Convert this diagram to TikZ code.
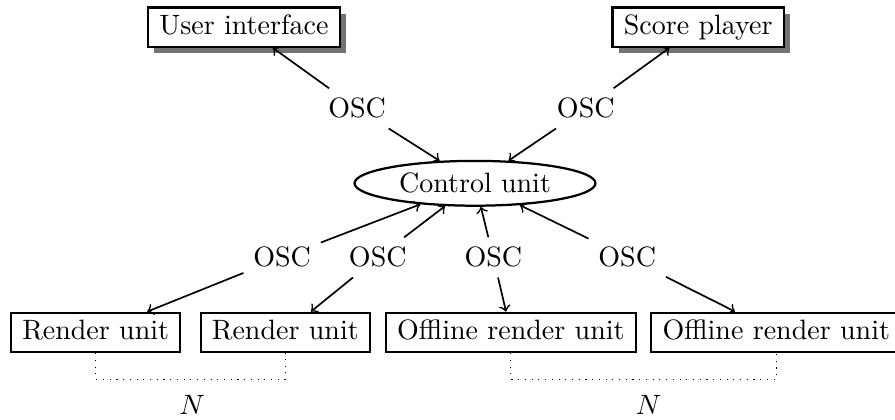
\documentclass[tikz,border=0pt]{standalone}
\usepackage{amsmath}
\usepackage{tikz}
\usetikzlibrary{shapes,shadows,calc}

\begin{document}
\begin{tikzpicture}[>=to]
  \useasboundingbox (0,0) rectangle (11.23,5.26);
  \tikzset{
    unitbox/.style={draw, thick, rectangle, fill=white, inner xsep=4pt, inner ysep=2.5pt, text height=7pt, text depth=2pt},
    shadowbox/.style={unitbox, drop shadow={shadow xshift=2.2pt, shadow yshift=-2.2pt, fill=black!55, opacity=1}},
    link/.style={semithick,->}
  }

  \node[shadowbox] at (3.06,4.92) (ui) {User interface};
  \node[shadowbox] at (8.76,4.92) (score) {Score player};
  \node at (4.48,3.90) (oscui) {OSC};
  \node at (7.35,3.90) (oscscore) {OSC};
  \node[draw, thick, ellipse, inner sep=0pt, minimum width=86pt, minimum height=16pt] at (5.96,2.96) (ctrl) {Control unit};

  \node at (3.54,2.03) (oscr1) {OSC};
  \node at (4.74,2.03) (oscr2) {OSC};
  \node at (6.19,2.03) (osco1) {OSC};
  \node at (7.87,2.03) (osco2) {OSC};
  \node[unitbox] at (1.20,1.09) (render1) {Render unit};
  \node[unitbox] at (3.58,1.09) (render2) {Render unit};
  \node[unitbox] at (6.41,1.09) (offline1) {Offline render unit};
  \node[unitbox] at (9.74,1.09) (offline2) {Offline render unit};

  \draw[link] (oscui) -- (ui);
  \draw[link] (oscui) -- (ctrl);
  \draw[link] (oscscore) -- (score);
  \draw[link] (oscscore) -- (ctrl);

  \draw[link] (oscr1) -- (ctrl);
  \draw[link] (oscr1) -- (render1);
  \draw[link] (oscr2) -- (ctrl);
  \draw[link] (oscr2) -- (render2);
  \draw[link] (osco1) -- (ctrl);
  \draw[link] (osco1) -- (offline1);
  \draw[link] (osco2) -- (ctrl);
  \draw[link] (osco2) -- (offline2);

  % the N copies
  \draw[dotted] (render1.south) -- ++(0,-0.33) -| (render2.south);
  \draw[dotted] (offline1.south) -- ++(0,-0.33) -| (offline2.south);
  \node at (2.41,0.18) (nrender) {$N$};
  \node at (8.14,0.18) (noffline) {$N$};
\end{tikzpicture}
\end{document}
